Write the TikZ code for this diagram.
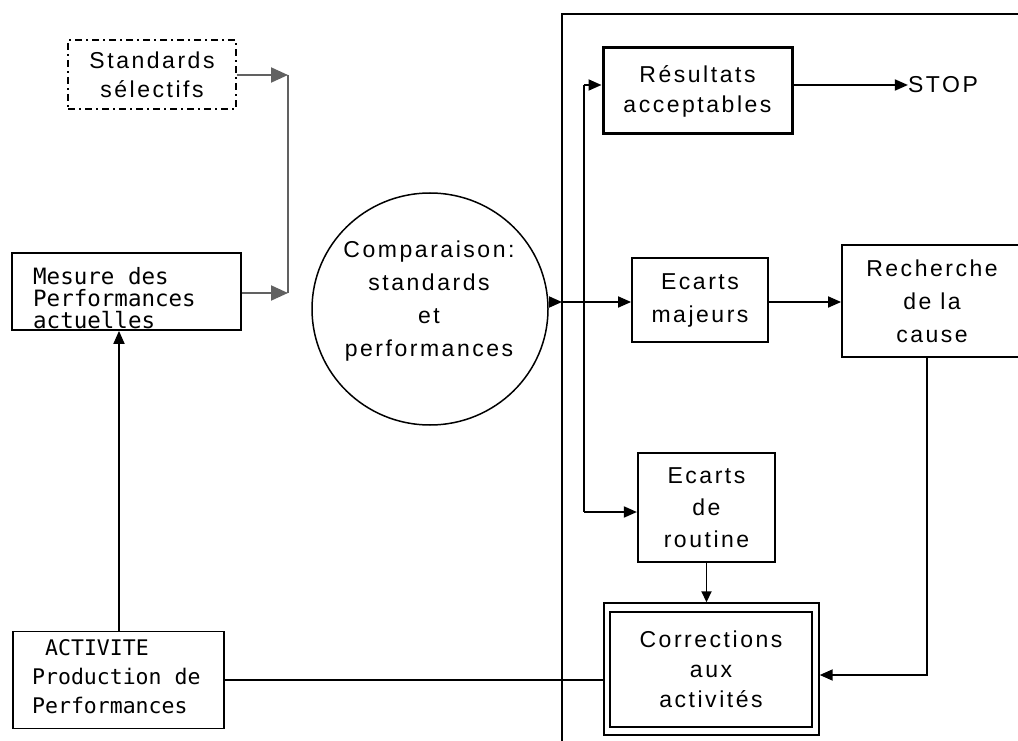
\documentclass[tikz,border=0pt]{standalone}
\usepackage{fontspec}
\setmainfont{Liberation Sans}[LetterSpace=11]
\newfontfamily\typew{DejaVu Sans Mono}
\usetikzlibrary{arrows.meta,shapes.geometric}

\tikzset{
  sf/.style={font=\fontsize{23}{31}\selectfont, align=center},
  tt/.style={font=\typew\fontsize{22.5}{22}\selectfont, align=left, inner sep=0pt},
  box/.style={draw, line width=1.8pt, inner sep=0pt},
  conn/.style={line width=1.8pt},
  arr/.style={conn, -{Triangle[length=13pt,width=11pt]}},
  garr/.style={line width=2pt, draw=black!62, -{Triangle[length=17pt,width=15pt]}},
  gline/.style={line width=2pt, draw=black!62},
}

\begin{document}
\begin{tikzpicture}[x=1pt,y=-1pt]
\clip (0,0) rectangle (1018,741);
\fill[white] (0,0) rectangle (1018,741);

% outer frame of the control zone
\draw[line width=2.4pt] (562,760) -- (562,14) -- (1040,14);
\coordinate (fr) at (562,302);

% left column
\node[box, sf, line width=1.8pt, dash pattern=on 7pt off 4pt on 2pt off 4pt,
      minimum width=168, minimum height=69, font=\fontsize{23}{29}\selectfont]
      (std) at (152,74.5) {Standards\\sélectifs};
\node[box, minimum width=229, minimum height=77] (mes) at (126.5,291.5) {};
\node[tt, anchor=west] (mestx) at (33,298) {Mesure des\\Performances\\actuelles};
\node[box, minimum width=211, minimum height=97] (act) at (118.5,680) {};
\node[tt, anchor=west, font=\typew\fontsize{21.5}{29}\selectfont] (acttx) at (32,677)
      {\hspace{13pt}ACTIVITE\\Production de\\Performances};

% comparison
\node[draw, ellipse, line width=1.5pt, minimum width=236, minimum height=232,
      inner sep=0pt] (cmp) at (430,309) {};
\node[sf, font=\fontsize{23}{33}\selectfont] (cmptx) at (429,301)
      {Comparaison:\\standards\\et\\performances};

% right column
\node[box, sf, line width=3pt, minimum width=189, minimum height=86, font=\fontsize{23}{30}\selectfont]
      (res) at (697.5,91) {Résultats\\acceptables};
\node[sf, inner sep=0pt] (stop) at (943,85) {STOP};
\node[box, sf, minimum width=136, minimum height=84, font=\fontsize{23}{33}\selectfont]
      (maj) at (700,300) {Ecarts\\majeurs};
\node[box, sf, minimum width=180, minimum height=112, font=\fontsize{23}{33}\selectfont]
      (rec) at (932,301) {Recherche\\de la\\cause};
\node[box, sf, line width=2.2pt, minimum width=137, minimum height=109, font=\fontsize{23}{32}\selectfont]
      (rou) at (706.5,507.5) {Ecarts\\de\\routine};
\node[draw, line width=1.4pt, minimum width=215, minimum height=132, inner sep=0pt]
      (cor) at (711.5,669) {};
\node[box, sf, line width=2.6pt, minimum width=202, minimum height=115, font=\fontsize{23}{30}\selectfont]
      (corin) at (711,669.5) {Corrections\\aux\\activités};

% junction points
\coordinate (j1) at (288,75);
\coordinate (j2) at (288,293);
\coordinate (b1) at (584,85);
\coordinate (b2) at (584,512);
\coordinate (k) at (927,675);

% standards and measures feed the comparison
\draw[garr] (std.east |- j1) -- (j1);
\draw[garr] (mes.east |- j2) -- (j2);
\draw[gline] (j1) -- (j2);
\draw[arr] (act.north -| 119,0) -- (mes.south -| 119,0);

% comparison results
\draw[arr] (cmp.east |- fr) -- (fr);
\draw[arr] (fr) -- (maj.west |- fr);
\draw[line width=1.4pt] (b1) -- (b2);
\draw[arr] (b1) -- (b1 -| res.west);
\draw[arr] (b2) -- (b2 -| rou.west);
\draw[arr] (res.east |- stop) -- (stop.west);
\draw[arr] (maj.east |- fr) -- (rec.west |- fr);

% corrective loop
\draw[arr] (rec.south -| k) -- (k) -- (k -| cor.east);
\draw[arr, -{Triangle[length=11pt,width=10pt]}] (rou.south) -- (rou.south |- cor.north);
\draw[conn] (act.east) -- (act.east -| cor.west);
\end{tikzpicture}
\end{document}
